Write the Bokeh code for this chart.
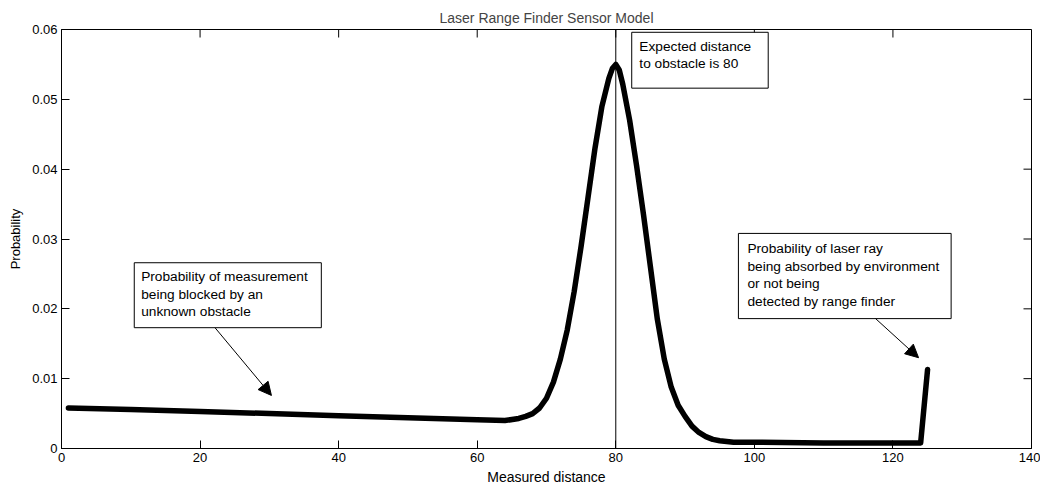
import math
from bokeh.plotting import figure
from bokeh.models import Range1d, Label, BoxAnnotation, Arrow, NormalHead, Span, FixedTicker
from bokeh.embed import file_html
from bokeh.resources import INLINE

# ---- data ----
distance = [1, 10, 20, 30, 40, 50, 60, 64, 66, 67, 68, 69, 70, 71, 72, 73, 74, 75, 76, 77, 78, 79,
            79.5, 80, 80.5, 81, 82, 83, 84, 85, 86, 87, 88, 89, 90, 91, 92, 93, 94, 95, 97, 100, 110,
            124, 125]
probability = [0.0058, 0.0056, 0.0053, 0.0050, 0.0047, 0.0044, 0.0041, 0.0040, 0.0043, 0.0046, 0.0050,
               0.0058, 0.0072, 0.0095, 0.0128, 0.0170, 0.0225, 0.0290, 0.0360, 0.0430, 0.0490, 0.0530,
               0.0544, 0.0550, 0.0542, 0.0522, 0.0470, 0.0405, 0.0335, 0.0260, 0.0185, 0.0128, 0.0088,
               0.0062, 0.0046, 0.0032, 0.0023, 0.0017, 0.0013, 0.0011, 0.0009, 0.0009, 0.0008, 0.0008,
               0.0113]
expected_distance = 80

x_ticks = [0, 20, 40, 60, 80, 100, 120, 140]
y_ticks = [0, 0.01, 0.02, 0.03, 0.04, 0.05, 0.06]
y_tick_labels = ["0", "0.01", "0.02", "0.03", "0.04", "0.05", "0.06"]

title_text = "Laser Range Finder Sensor Model"
x_label = "Measured distance"
y_label = "Probability"

note_expected = ["Expected distance", "to obstacle is 80"]
note_blocked = ["Probability of measurement", "being blocked by an", "unknown obstacle"]
note_absorbed = ["Probability of laser ray", "being absorbed by environment", "or not being",
                 "detected by range finder"]

FONT = "Liberation Sans"
FS = "13px"
X0, X1 = 0, 140
Y0, Y1 = 0, 0.06

p = figure(frame_width=970, frame_height=419, output_backend="svg", toolbar_location=None,
           x_range=Range1d(X0, X1), y_range=Range1d(Y0, Y1),
           min_border_left=61, min_border_right=9, min_border_top=29, min_border_bottom=34,
           background_fill_color="white", border_fill_color="white")
p.grid.visible = False
p.outline_line_color = "black"
p.outline_line_width = 1

p.title.text = title_text
p.title.align = "center"
p.title.vertical_align = "top"
p.title.text_font = FONT
p.title.text_font_size = "14px"
p.title.text_font_style = "normal"
p.title.standoff = 4

def style_axis(ax):
    ax.major_tick_in = 8
    ax.major_tick_out = 0
    ax.minor_tick_line_color = None
    ax.axis_line_color = "black"
    ax.major_tick_line_color = "black"
    ax.major_label_text_font = FONT
    ax.major_label_text_font_size = FS
    ax.major_label_text_color = "black"
    ax.major_label_standoff = 4
    ax.axis_label_text_font = FONT
    ax.axis_label_text_font_size = FS
    ax.axis_label_text_font_style = "normal"
    ax.axis_label_text_color = "black"

xa = p.xaxis[0]
xa.ticker = FixedTicker(ticks=x_ticks)
xa.axis_label = x_label
xa.axis_label_standoff = 4
style_axis(xa)
xa.axis_label_text_font_size = "14px"

ya = p.yaxis[0]
ya.ticker = FixedTicker(ticks=y_ticks)
ya.major_label_overrides = {t: l for t, l in zip(y_ticks, y_tick_labels)}
ya.axis_label = y_label
ya.axis_label_standoff = 6
style_axis(ya)

# mirrored inward ticks on the top and right edges (8 px long)
p.ray(x=x_ticks, y=[Y1] * len(x_ticks), length=8, length_units="screen",
      angle=-math.pi / 2, line_color="black", line_width=1)
p.ray(x=[X1] * len(y_ticks), y=y_ticks, length=8, length_units="screen",
      angle=math.pi, line_color="black", line_width=1)

# vertical marker at expected distance
p.add_layout(Span(location=expected_distance, dimension="height", line_color="black", line_width=1))

# main curve
p.line(distance, probability, line_color="black", line_width=5.5, line_join="round", line_cap="round")

# annotation boxes (left, right, bottom, top in data units)
def note(lines, box, x_text, y_first):
    p.add_layout(BoxAnnotation(left=box[0], right=box[1], bottom=box[2], top=box[3],
                               fill_color="white", fill_alpha=1, line_color="black", line_alpha=1,
                               line_width=1, level="overlay"))
    for i, t in enumerate(lines):
        p.add_layout(Label(x=x_text, y=y_first, y_offset=-17.5 * i, text=t, text_font=FONT,
                           text_font_size="13.7px", text_color="black", text_baseline="middle",
                           level="overlay"))

note(note_expected, (82.3, 102.0, 0.0516, 0.0596), 83.4, 0.0576)
note(note_blocked, (10.5, 37.5, 0.0173, 0.0266), 11.5, 0.0246)
note(note_absorbed, (97.7, 128.4, 0.0186, 0.0308), 99.0, 0.0286)

# arrows
for (xs, ys, xe, ye) in [(21.9, 0.0176, 30.3, 0.0076), (116.5, 0.0195, 123.7, 0.0130)]:
    p.add_layout(Arrow(end=NormalHead(size=13, fill_color="black", line_color="black"),
                       x_start=xs, y_start=ys, x_end=xe, y_end=ye,
                       line_color="black", line_width=1))

open("out.html", "w").write(file_html(p, INLINE))
